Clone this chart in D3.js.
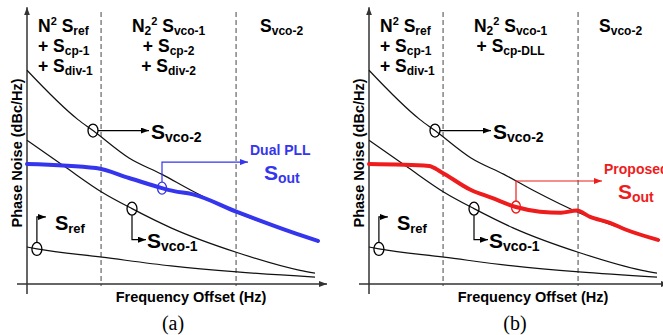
<!DOCTYPE html>
<html>
<head>
<meta charset="utf-8">
<title>Phase noise contributions</title>
<script src="https://d3js.org/d3.v7.min.js"></script>
<style>
  body { margin: 0; background: #fff; }
  text { font-family: Arial, "Liberation Sans", sans-serif; font-weight: bold; white-space: pre; }
</style>
</head>
<body>
<div id="chart"></div>
<script>
// normalized log-frequency (0..10) and phase noise (0..100)
const freqVco2 = [0, 1.7, 2.2, 3.4, 4.5, 5.5, 7.0, 8.8, 9.7];
const noiseVco2 = [78, 60, 56, 46, 40, 34, 26, 19, 16];
const freqVco1 = [0, 1.3, 2.5, 3.5, 4.8, 7.0, 9.1, 9.6];
const noiseVco1 = [52.5, 42.5, 33.5, 27.5, 20.5, 11.5, 5, 4];
const freqRef = [0, 0.33, 2.5, 4.8, 7.0, 9.6];
const noiseRef = [13.5, 12.8, 9.8, 6.6, 4.4, 2.5];
const freqDual = [0, 2.3, 3.4, 4.5, 4.9, 5.5, 7.0, 8.8, 9.7];
const noiseDual = [43.8, 42.3, 38.7, 35.0, 33.9, 32.8, 26.3, 19.0, 15.7];
const freqProp = [0, 2.0, 2.4, 3.4, 4.1, 4.9, 5.7, 6.4, 6.93, 7.37, 8.03, 8.57, 9.63];
const noiseProp = [43.8, 43.1, 40.9, 34.3, 31.4, 28.1, 26.4, 26.0, 26.8, 24.5, 22.3, 19.8, 16.1];
const regionBounds = [2.47, 6.97];

// where the callout circles sit (frequency)
const markVco2 = 2.2, markVco1 = 3.5, markRef = 0.33, markDual = 4.5, markProp = 4.9;

// region header lines: [text, kind] where kind is n / sub / sup
const headA = [
  [[["N", "n"], ["2", "sup"], [" S", "n"], ["ref", "sub"]],
   [["+ S", "n"], ["cp-1", "sub"]],
   [["+ S", "n"], ["div-1", "sub"]]],
  [[["N", "n"], ["2", "sub"], ["2", "sup"], [" S", "n"], ["vco-1", "sub"]],
   [["+ S", "n"], ["cp-2", "sub"]],
   [["+ S", "n"], ["div-2", "sub"]]],
  [[["S", "n"], ["vco-2", "sub"]]]
];
const headB = [
  headA[0],
  [[["N", "n"], ["2", "sub"], ["2", "sup"], [" S", "n"], ["vco-1", "sub"]],
   [["+ S", "n"], ["cp-DLL", "sub"]]],
  headA[2]
];

const W = 663, H = 335;
const svg = d3.select("#chart").append("svg").attr("width", W).attr("height", H);

const defs = svg.append("defs");
[["arrK", "#000"], ["arrAx", "#333"], ["arrB", "#3535ee"], ["arrR", "#ee1c1c"]].forEach(([id, c]) => {
  defs.append("marker").attr("id", id)
    .attr("markerUnits", "userSpaceOnUse")
    .attr("markerWidth", 8).attr("markerHeight", 6)
    .attr("refX", 8).attr("refY", 3).attr("orient", "auto")
    .append("path").attr("d", "M0,0 L8,3 L0,6 Z").attr("fill", c);
});

function rich(g, x, y, segs, o) {
  const t = g.append("text").attr("x", x).attr("y", y)
    .attr("text-anchor", o.anchor || "start").attr("fill", o.color || "#000");
  let shift = 0;
  segs.forEach(([s, k]) => {
    const target = k === "sub" ? o.subDy : k === "sup" ? -o.supDy : 0;
    t.append("tspan").attr("dy", target - shift)
      .attr("font-size", k === "n" ? o.size : k === "sub" ? o.sub : o.sup)
      .text(s);
    shift = target;
  });
}

function interp(xs, ys, v) {
  return d3.scaleLinear().domain(xs).range(ys)(v);
}

function panel(x0, cfg) {
  const g = svg.append("g");
  const x = d3.scaleLinear().domain([0, 10]).range([x0, x0 + 300]);
  const y = d3.scaleLinear().domain([0, 100]).range([284, 10]);
  const line = d3.line().x(d => x(d[0])).y(d => y(d[1])).curve(d3.curveMonotoneX);

  // region separators
  g.selectAll(".sep").data(regionBounds).enter().append("line")
    .attr("x1", d => x(d)).attr("x2", d => x(d))
    .attr("y1", 12).attr("y2", 286)
    .attr("stroke", "#8c8c8c").attr("stroke-width", 1.6).attr("stroke-dasharray", "5,3");

  // axes
  g.append("line").attr("x1", x(0)).attr("x2", x(0)).attr("y1", 294).attr("y2", y(101))
    .attr("stroke", "#333").attr("stroke-width", 1.5).attr("marker-end", "url(#arrAx)");
  g.append("line").attr("x1", x(0) - 10).attr("x2", x(10)).attr("y1", y(0)).attr("y2", y(0))
    .attr("stroke", "#333").attr("stroke-width", 1.5).attr("marker-end", "url(#arrAx)");

  // black contributions
  [[freqVco2, noiseVco2], [freqVco1, noiseVco1], [freqRef, noiseRef]].forEach(([fx, ny]) => {
    g.append("path").datum(d3.zip(fx, ny)).attr("d", line)
      .attr("fill", "none").attr("stroke", "#111").attr("stroke-width", 1.2);
  });

  // total output
  g.append("path").datum(d3.zip(cfg.freq, cfg.noise)).attr("d", line)
    .attr("fill", "none").attr("stroke", cfg.color).attr("stroke-width", 4)
    .attr("stroke-linejoin", "round").attr("stroke-linecap", "round");

  // headers
  const cols = [x0 + 11, (x(regionBounds[0]) + x(regionBounds[1])) / 2, (x(regionBounds[1]) + x(10)) / 2 + cfg.col3dx];
  cfg.head.forEach((lines, i) => {
    lines.forEach((segs, j) => {
      rich(g, cols[i], 32 + j * 20, segs, {
        size: 17.5, sub: 12, sup: 11, subDy: 3, supDy: 7, anchor: i === 0 ? "start" : "middle"
      });
    });
  });

  const big = { size: 21, sub: 14, sup: 11, subDy: 3, supDy: 7 };

  // S_vco-2 callout
  let cx = x(markVco2), cy = y(interp(freqVco2, noiseVco2, markVco2));
  g.append("ellipse").attr("cx", cx).attr("cy", cy).attr("rx", 5).attr("ry", 6.5)
    .attr("fill", "none").attr("stroke", "#000").attr("stroke-width", 1.3);
  g.append("path").attr("d", `M${cx + 5},${cy} H${cx + 56}`)
    .attr("stroke", "#000").attr("stroke-width", 1.2).attr("marker-end", "url(#arrK)");
  rich(g, cx + 58, cy + 8, [["S", "n"], ["vco-2", "sub"]], big);

  // S_vco-1 callout
  cx = x(markVco1); cy = y(interp(freqVco1, noiseVco1, markVco1));
  g.append("ellipse").attr("cx", cx).attr("cy", cy).attr("rx", 5).attr("ry", 6.5)
    .attr("fill", "none").attr("stroke", "#000").attr("stroke-width", 1.3);
  g.append("path").attr("d", `M${cx},${cy + 6.5} V${cy + 31} H${cx + 14}`)
    .attr("fill", "none").attr("stroke", "#000").attr("stroke-width", 1.2).attr("marker-end", "url(#arrK)");
  rich(g, cx + 15, cy + 39, [["S", "n"], ["vco-1", "sub"]], big);

  // S_ref callout
  cx = x(markRef); cy = y(interp(freqRef, noiseRef, markRef));
  g.append("ellipse").attr("cx", cx).attr("cy", cy).attr("rx", 5).attr("ry", 6.5)
    .attr("fill", "none").attr("stroke", "#000").attr("stroke-width", 1.3);
  g.append("path").attr("d", `M${cx},${cy - 6.5} V${cy - 32} H${cx + 9}`)
    .attr("fill", "none").attr("stroke", "#000").attr("stroke-width", 1.2).attr("marker-end", "url(#arrK)");
  rich(g, cx + 18, cy - 19, [["S", "n"], ["ref", "sub"]], { size: 20, sub: 13, sup: 11, subDy: 3, supDy: 7 });

  // S_out callout
  cx = x(cfg.mark); cy = y(interp(cfg.freq, cfg.noise, cfg.mark));
  g.append("ellipse").attr("cx", cx).attr("cy", cy).attr("rx", 4.5).attr("ry", 6)
    .attr("fill", "none").attr("stroke", cfg.color).attr("stroke-width", 1.3);
  g.append("path").attr("d", `M${cx},${cy - 6} V${cy - 26} H${cx + 86}`)
    .attr("fill", "none").attr("stroke", cfg.color).attr("stroke-width", 1.2).attr("marker-end", `url(#${cfg.arrow})`);
  g.append("text").attr("x", cx + 88).attr("y", cy - 33).attr("font-size", 14)
    .attr("fill", cfg.color).text(cfg.name);
  rich(g, cx + 102, cy - 8, [["S", "n"], ["out", "sub"]], Object.assign({ color: cfg.color }, big));

  // axis titles
  g.append("text").attr("transform", `translate(${x0 - 5},153) rotate(-90)`)
    .attr("text-anchor", "middle").attr("font-size", 14.5).attr("fill", "#000")
    .text("Phase Noise (dBc/Hz)");
  g.append("text").attr("x", x0 + 164).attr("y", 302)
    .attr("text-anchor", "middle").attr("font-size", 14.5).attr("fill", "#000")
    .text("Frequency Offset (Hz)");

  g.append("text").attr("x", x0 + 146).attr("y", 330)
    .attr("text-anchor", "middle").attr("font-size", 20)
    .style("font-weight", "normal")
    .style("font-family", "'Liberation Serif', 'Times New Roman', serif")
    .text(cfg.tag);
}

panel(27, { freq: freqDual, noise: noiseDual, mark: markDual, color: "#3535ee", arrow: "arrB",
  name: "Dual PLL", head: headA, col3dx: 0, tag: "(a)" });
panel(369, { freq: freqProp, noise: noiseProp, mark: markProp, color: "#ee1c1c", arrow: "arrR",
  name: "Proposed", head: headB, col3dx: -3, tag: "(b)" });
</script>
</body>
</html>
